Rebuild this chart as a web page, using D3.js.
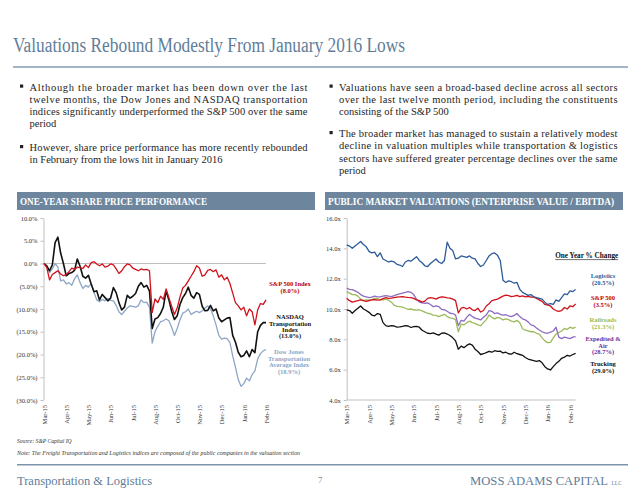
<!DOCTYPE html>
<html><head><meta charset="utf-8">
<script src="https://cdnjs.cloudflare.com/ajax/libs/d3/7.8.5/d3.min.js"></script>
<style>body{margin:0;background:#fff}svg{display:block}</style>
</head><body><svg id="c" width="640" height="500"></svg>
<script>
// ---------- DATA ----------
const monthLabels = ["Mar-15","Apr-15","May-15","Jun-15","Jul-15","Aug-15","Oct-15","Nov-15","Dec-15","Jan-16","Feb-16"];
const perfTicks = [10,5,0,-5,-10,-15,-20,-25,-30];
const multTicks = [16,14,12,10,8,6,4];

// One-year share price performance (%), sampled every 1/8 of a label interval
const sp500Perf = [0,-0.9,-3.6,-2.4,-2.0,-1.6,-2.3,-2.7,-2.4,-1.8,
  -1.0,-1.3,-0.8,-0.9,-1.1,-0.3,-0.9,0.2,0.4,-0.1,
  -0.5,-0.1,-0.8,-0.6,-0.1,-0.3,-1.2,-2.2,-1.6,-0.7,
  -0.1,-0.3,-1.0,-1.3,-1.6,-1.2,-1.4,-1.3,-1.6,-10.8,
  -7.8,-8.6,-7.2,-7.9,-5.6,-7.5,-9.4,-11.2,-9.8,-7.4,
  -5.4,-4.8,-3.8,-2.8,-1.8,-0.5,-1.0,-2.8,-2.5,-1.5,
  -1.3,-1.8,-1.4,-3.0,-2.5,-3.6,-3.0,-4.4,-6.5,-8.6,
  -9.3,-10.2,-9.6,-11.5,-10.0,-10.6,-13.5,-10.2,-8.8,-9.0,-8.0];
const nasdaqTransPerf = [0,-0.5,-1.6,-0.3,4.6,5.8,2.3,0.0,-2.7,-2.2,
  -2.0,-1.5,1.0,-0.6,-2.8,-3.2,-2.6,-4.5,-6.2,-6.0,
  -8.0,-6.8,-7.5,-8.2,-7.6,-5.3,-6.4,-8.6,-10.2,-9.6,
  -7.0,-7.6,-7.2,-6.6,-5.0,-4.2,-5.2,-4.8,-6.0,-14.3,
  -12.2,-11.9,-11.0,-9.6,-6.0,-8.0,-10.5,-12.3,-11.5,-9.0,
  -7.5,-6.6,-5.2,-7.0,-7.6,-6.4,-6.8,-9.4,-10.4,-10.3,
  -9.2,-10.4,-10.0,-12.0,-12.8,-12.4,-12.0,-11.9,-15.8,-17.3,
  -19.5,-20.5,-20.2,-19.2,-20.5,-18.9,-19.6,-15.0,-13.6,-13.0,-13.0];
const dowTransPerf = [0,-0.6,-2.0,-1.2,0.0,-0.8,-3.8,-3.6,-4.5,-4.2,
  -4.8,-3.4,-2.5,-4.2,-5.5,-4.8,-5.2,-4.4,-6.3,-8.0,
  -8.4,-7.9,-8.2,-7.7,-8.1,-8.2,-9.2,-10.6,-11.2,-10.5,
  -9.8,-9.3,-9.4,-9.6,-9.3,-8.0,-8.6,-8.5,-9.6,-17.5,
  -15.0,-13.8,-12.8,-12.6,-12.2,-12.6,-14.0,-15.8,-14.3,-12.4,
  -10.9,-10.6,-10.0,-11.2,-10.8,-10.5,-10.8,-10.4,-9.8,-9.3,
  -10.0,-11.5,-13.5,-15.8,-16.6,-16.4,-16.5,-17.4,-20.3,-22.8,
  -25.5,-27.0,-26.4,-25.2,-25.8,-24.4,-23.6,-21.0,-19.8,-19.2,-18.9];

// EV / EBITDA multiples (x)
const logisticsEV = [14.23,14.15,14.0,14.15,14.3,14.45,14.25,14.1,13.8,13.7,
  13.75,13.45,13.7,13.3,13.2,13.1,13.15,13.1,12.95,12.9,
  12.8,13.1,13.2,13.15,13.3,13.45,13.2,13.05,12.85,12.8,
  13.0,13.15,13.3,13.1,13.0,13.2,14.4,14.0,13.85,13.3,
  13.35,13.5,13.45,13.4,13.5,13.35,13.3,13.0,12.8,12.9,
  13.2,13.5,13.65,13.7,13.55,13.2,11.9,11.75,11.85,11.8,
  11.7,11.75,11.3,11.1,11.0,10.9,10.95,10.8,10.75,10.7,
  10.65,10.45,10.3,10.35,10.3,10.6,10.5,10.75,11.0,10.95,11.2,11.15,11.28];
const sp500EV = [10.71,10.55,10.45,10.5,10.55,10.6,10.55,10.5,10.55,10.6,
  10.62,10.58,10.6,10.68,10.75,10.7,10.72,10.75,10.78,10.8,
  10.82,10.78,10.76,10.75,10.7,10.6,10.55,10.45,10.52,10.7,
  10.75,10.72,10.65,10.75,10.8,10.78,10.74,10.72,10.65,10.55,
  9.75,10.05,10.1,10.0,10.1,9.95,9.9,10.05,9.8,9.9,
  10.2,10.35,10.55,10.6,10.65,10.75,10.85,10.92,10.88,10.82,
  10.85,10.9,10.82,10.86,10.8,10.84,10.78,10.8,10.7,10.6,
  10.5,10.3,10.25,10.2,10.0,9.9,9.85,9.9,10.1,10.0,10.2,10.15,10.34];
const railroadsEV = [11.15,11.05,10.95,10.95,10.85,10.65,10.55,10.6,10.58,10.62,
  10.7,10.68,10.6,10.6,10.65,10.58,10.45,10.25,10.18,10.15,
  10.12,10.05,9.98,10.0,9.95,9.92,9.95,9.88,9.8,9.72,
  9.68,9.6,9.58,9.5,9.58,9.65,9.5,9.42,9.38,9.3,
  8.5,9.0,8.95,9.1,9.2,9.1,9.05,8.95,8.9,9.1,
  9.3,9.6,9.45,9.35,9.45,9.4,9.28,9.35,9.3,9.2,
  9.15,9.25,9.1,8.7,8.6,8.55,8.5,8.5,8.4,8.35,
  8.1,7.9,7.78,7.8,8.1,8.35,8.45,8.55,8.72,8.65,8.8,8.72,8.8];
const expeditedEV = [11.37,11.3,11.28,11.2,11.1,10.95,10.85,10.8,10.75,10.78,
  10.85,10.8,10.8,10.85,10.88,10.85,10.82,10.88,10.95,11.0,
  11.05,11.1,11.15,11.1,10.95,10.65,10.45,10.4,10.38,10.4,
  10.3,10.15,10.2,10.15,9.98,9.95,9.85,9.72,9.7,9.6,
  8.9,9.25,9.2,9.45,9.65,9.5,9.4,9.35,9.28,9.45,
  9.6,9.9,9.85,9.7,9.75,9.65,9.6,9.62,9.55,9.5,
  9.58,9.7,9.5,9.35,9.28,9.15,8.95,8.9,8.75,8.62,
  8.5,8.42,8.4,8.48,8.55,8.8,8.15,8.05,8.15,8.1,8.05,8.15,8.18];
const truckingEV = [9.94,9.9,9.72,9.9,10.05,10.2,10.0,9.9,9.78,9.6,
  9.55,9.7,9.65,9.1,8.9,8.85,8.9,8.88,8.8,8.82,
  8.85,8.9,8.88,8.78,8.84,8.86,8.8,8.6,8.5,8.4,
  8.38,8.42,8.35,8.28,8.4,8.42,8.35,8.25,8.1,7.9,
  7.35,7.55,7.45,7.6,7.7,7.62,7.35,7.2,7.0,7.05,
  7.12,7.2,7.15,7.25,7.2,7.22,7.1,7.15,7.05,7.02,
  7.15,7.05,7.0,6.95,6.8,6.7,6.65,6.6,6.55,6.6,
  6.45,6.2,6.05,5.98,6.2,6.4,6.55,6.75,6.82,6.95,6.9,7.0,7.08];

// ---------- DRAW ----------
const svg = d3.select("#c");
const serif = "'Liberation Serif','Times New Roman',serif";
const steel = "#5f7d99";

// Title
svg.append("text").attr("x",13).attr("y",52).attr("font-family",serif).attr("font-size",20)
  .attr("fill",steel).attr("textLength",392).attr("lengthAdjust","spacingAndGlyphs")
  .text("Valuations Rebound Modestly From January 2016 Lows");
svg.append("rect").attr("x",13).attr("y",66).attr("width",615).attr("height",2).attr("fill","#a3b5c7");

// Bullets
function para(x0, w, bulletX, lines) {
  lines.forEach(l => {
    if (l.b) svg.append("rect").attr("x",bulletX).attr("y",l.y-6).attr("width",3.2).attr("height",3.2).attr("fill","#222");
    const t = svg.append("text").attr("x",x0).attr("y",l.y).attr("font-family",serif)
      .attr("font-size",10.5).attr("fill","#1e1e1e").text(l.t);
    if (l.j) t.attr("textLength",w).attr("lengthAdjust","spacing");
  });
}
para(29.5, 278, 20, [
  {t:"Although the broader market has been down over the last", y:90.5, j:1, b:1},
  {t:"twelve months, the Dow Jones and NASDAQ transportation", y:102.8, j:1},
  {t:"indices significantly underperformed the S&P 500 over the same", y:115.1, j:1},
  {t:"period", y:127.4},
  {t:"However, share price performance has more recently rebounded", y:151, j:1, b:1},
  {t:"in February from the lows hit in January 2016", y:163.3}
]);
para(339, 278.5, 329.5, [
  {t:"Valuations have seen a broad-based decline across all sectors", y:90.5, j:1, b:1},
  {t:"over the last twelve month period, including the constituents", y:102.8, j:1},
  {t:"consisting of the S&P 500", y:115.1},
  {t:"The broader market has managed to sustain a relatively modest", y:137, j:1, b:1},
  {t:"decline in valuation multiples while transportation & logistics", y:149.3, j:1},
  {t:"sectors have suffered greater percentage declines over the same", y:161.6, j:1},
  {t:"period", y:173.9}
]);

// Section headers
function header(x, w, txt, tl, fs) {
  svg.append("rect").attr("x",x).attr("y",192).attr("width",w).attr("height",18).attr("fill","#6d869e");
  svg.append("text").attr("x",x+3).attr("y",204.8).attr("font-family",serif).attr("font-weight","bold")
    .attr("font-size",fs).attr("fill","#fff").attr("textLength",tl).attr("lengthAdjust","spacingAndGlyphs").text(txt);
}
header(17, 298, "ONE-YEAR SHARE PRICE PERFORMANCE", 187, 10);
header(325, 298, "PUBLIC MARKET VALUATIONS (ENTERPRISE VALUE / EBITDA)", 286, 9.5);

function styleAxis(g) {
  g.selectAll("path,line").attr("stroke","#bfbfbf");
  g.selectAll("text").attr("font-family",serif).attr("font-size",6.5).attr("fill","#333");
}
function xLabels(xs, y) {
  const g = svg.append("g").attr("transform",`translate(0,${y})`)
    .call(d3.axisBottom(xs).tickValues(d3.range(11)).tickFormat(i => monthLabels[i]).tickSize(0));
  g.select(".domain").remove();
  styleAxis(g);
  g.selectAll("text").attr("transform","rotate(-90)").attr("x",-5).attr("y",0).attr("dy","0.35em").attr("text-anchor","end");
}
function labelBlock(x, ys, lines, color, size) {
  lines.forEach((s,i) => svg.append("text").attr("x",x).attr("y",ys[i]+2).attr("text-anchor","middle")
    .attr("font-family",serif).attr("font-weight","bold").attr("font-size",size||6.5).attr("fill",color).text(s));
}

// ---- Left chart ----
const xL = d3.scaleLinear().domain([0,10]).range([44,266]);
const yL = d3.scaleLinear().domain([-30,10]).range([400,218]);
const fmtPct = v => v < 0 ? `(${Math.abs(v).toFixed(1)}%)` : `${v.toFixed(1)}%`;
const gyL = svg.append("g").attr("transform","translate(43.5,0)")
  .call(d3.axisLeft(yL).tickValues(perfTicks).tickFormat(fmtPct).tickSize(3).tickSizeOuter(0));
styleAxis(gyL);
svg.append("line").attr("x1",43.5).attr("x2",xL(10)).attr("y1",yL(0)).attr("y2",yL(0)).attr("stroke","#bfbfbf");
xLabels(xL, 400);
const lineL = d3.line().x((d,i) => xL(i/8)).y(d => yL(d));
[[dowTransPerf,"#8ea6c6",1.3],[nasdaqTransPerf,"#111",1.6],[sp500Perf,"#d0121b",1.3]].forEach(([d,c,w]) =>
  svg.append("path").datum(d).attr("d",lineL).attr("fill","none").attr("stroke",c).attr("stroke-width",w).attr("stroke-linejoin","round"));
labelBlock(290, [283.7,290.5], ["S&P 500 Index","(8.0%)"], "#c00000");
labelBlock(290, [317.3,323.5,329.7,335.9], ["NASDAQ","Transportation","Index","(13.0%)"], "#111");
labelBlock(289, [352.3,358.8,365.3,371.8], ["Dow Jones","Transportation","Average Index","(18.9%)"], "#8ea6c6");

// ---- Right chart ----
const xR = d3.scaleLinear().domain([0,10]).range([346.7,570]);
const yR = d3.scaleLinear().domain([4,16]).range([400,218]);
const gyR = svg.append("g").attr("transform","translate(346.7,0)")
  .call(d3.axisLeft(yR).tickValues(multTicks).tickFormat(v => v.toFixed(1)+"x").tickSize(3).tickSizeOuter(0));
styleAxis(gyR);
svg.append("line").attr("x1",346.7).attr("x2",xR(10.25)).attr("y1",400).attr("y2",400).attr("stroke","#bfbfbf");
xLabels(xR, 400);
const lineR = d3.line().x((d,i) => xR(i/8)).y(d => yR(d));
[[railroadsEV,"#9bbb59"],[expeditedEV,"#8e6cc0"],[truckingEV,"#111"],[sp500EV,"#d0121b"],[logisticsEV,"#2e5a99"]].forEach(([d,c]) =>
  svg.append("path").datum(d).attr("d",lineR).attr("fill","none").attr("stroke",c).attr("stroke-width",1.3).attr("stroke-linejoin","round"));
svg.append("text").attr("x",586.7).attr("y",258).attr("text-anchor","middle").attr("font-family",serif)
  .attr("font-weight","bold").attr("font-size",7.2).attr("fill","#111").attr("textLength",63).attr("lengthAdjust","spacingAndGlyphs").text("One Year % Change");
svg.append("line").attr("x1",555.2).attr("x2",618.2).attr("y1",259.6).attr("y2",259.6).attr("stroke","#111").attr("stroke-width",0.6);
labelBlock(603, [276,282.7], ["Logistics","(20.5%)"], "#2e5a99");
labelBlock(603, [298.3,305], ["S&P 500","(3.5%)"], "#c00000");
labelBlock(603, [320,326.5], ["Railroads","(21.3%)"], "#9bbb59");
labelBlock(603, [339.3,345.8,352.3], ["Expedited &","Air","(28.7%)"], "#7030a0");
labelBlock(603, [364,370.7], ["Trucking","(29.0%)"], "#111");

// ---- Footer ----
svg.append("text").attr("x",17).attr("y",443).attr("font-family",serif).attr("font-style","italic")
  .attr("font-size",5.6).attr("fill","#333").text("Source: S&P Capital IQ");
svg.append("text").attr("x",17).attr("y",455).attr("font-family",serif).attr("font-style","italic")
  .attr("font-size",5.6).attr("fill","#333").attr("textLength",283).attr("lengthAdjust","spacingAndGlyphs")
  .text("Note: The Freight Transportation and Logistics indices are composed of the public companies in the valuation section");
svg.append("rect").attr("x",17).attr("y",464).attr("width",611).attr("height",1.5).attr("fill","#7c93aa");
svg.append("text").attr("x",17).attr("y",485).attr("font-family",serif).attr("font-size",13)
  .attr("fill",steel).attr("textLength",135).attr("lengthAdjust","spacingAndGlyphs").text("Transportation & Logistics");
svg.append("text").attr("x",318).attr("y",483).attr("font-family",serif).attr("font-size",9).attr("fill","#888").text("7");
svg.append("text").attr("x",470).attr("y",485).attr("font-family",serif).attr("font-size",13)
  .attr("fill",steel).attr("textLength",138).attr("lengthAdjust","spacingAndGlyphs").text("MOSS ADAMS CAPITAL");
svg.append("text").attr("x",611.5).attr("y",485).attr("font-family",serif).attr("font-size",5.5)
  .attr("fill",steel).text("LLC");
</script>
</body></html>
